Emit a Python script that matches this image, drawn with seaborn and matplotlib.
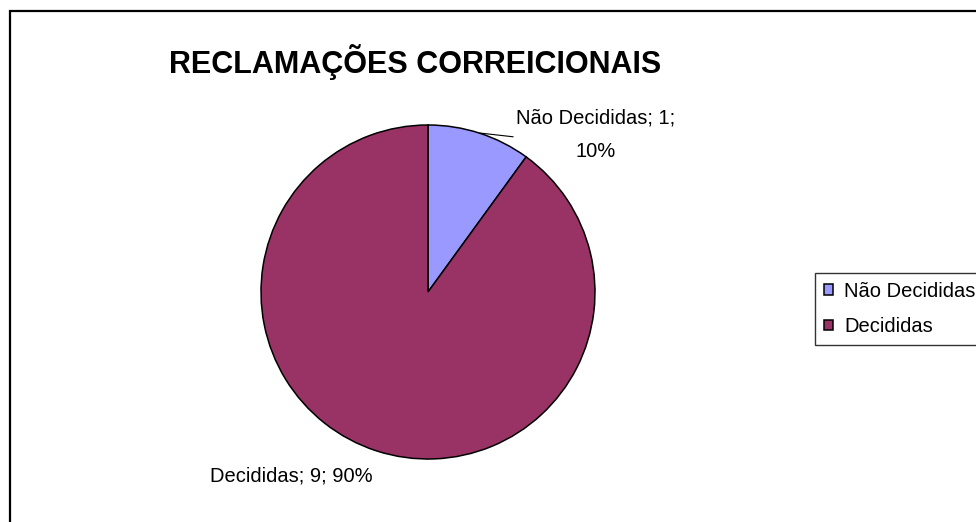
import matplotlib
matplotlib.use("Agg")
import matplotlib.pyplot as plt
import seaborn as sns
from matplotlib.patches import Rectangle

# data
categories = ["Não Decididas", "Decididas"]
values = [1, 9]
colors = ["#9999FF", "#993366"]
title = "RECLAMAÇÕES CORREICIONAIS"

sns.set_theme(style="white")
plt.rcParams["font.family"] = ["Liberation Sans", "DejaVu Sans"]
plt.rcParams["text.color"] = "black"

fig = plt.figure(figsize=(9.76, 5.22), dpi=100)
fig.patch.set_facecolor("white")

# outer chart frame (runs off the right and bottom edges)
fig.add_artist(Rectangle((9.5 / 976, -0.1), 1.2, 1 - 11 / 522 + 0.1,
                         transform=fig.transFigure, fill=False,
                         edgecolor="black", linewidth=1.6))

ax = fig.add_axes([261 / 976, 63 / 522, 334 / 976, 334 / 522])
wedges, _ = ax.pie(values, colors=colors, startangle=90, counterclock=False,
                   wedgeprops=dict(edgecolor="black", linewidth=1.1))
ax.set_xlim(-1, 1)
ax.set_ylim(-1, 1)
ax.set_aspect("equal")
ax.axis("off")

total = sum(values)
pcts = [round(100 * v / total) for v in values]

# data labels
ax.annotate(f"{categories[0]}; {values[0]};\n{pcts[0]}%", xy=(0.31, 0.952),
            xytext=(1.006, 0.943), ha="center", va="center", fontsize=14.5,
            linespacing=2.0, annotation_clip=False, color="black",
            arrowprops=dict(arrowstyle="-", color="black", lw=0.8,
                            shrinkA=0, shrinkB=0, relpos=(0.0, 0.45)))
ax.text(-0.817, -1.102, f"{categories[1]}; {values[1]}; {pcts[1]}%",
        ha="center", va="center", fontsize=14.5, color="black", clip_on=False)

fig.text(415 / 976, 1 - 73 / 522, title, ha="center", va="baseline",
         fontsize=22, fontweight="bold", color="black")

leg = fig.legend(wedges, categories, loc="upper left",
                 bbox_to_anchor=(815 / 976, 1 - 273 / 522), fontsize=14.5,
                 frameon=True, fancybox=False, borderaxespad=0,
                 handlelength=0.45, handleheight=0.45, handletextpad=0.55,
                 labelspacing=0.8, borderpad=0.45)
leg.get_frame().set_edgecolor("black")
leg.get_frame().set_linewidth(1.0)
for t in leg.get_texts():
    t.set_color("black")

fig.savefig("out.png", dpi=100, facecolor="white")
